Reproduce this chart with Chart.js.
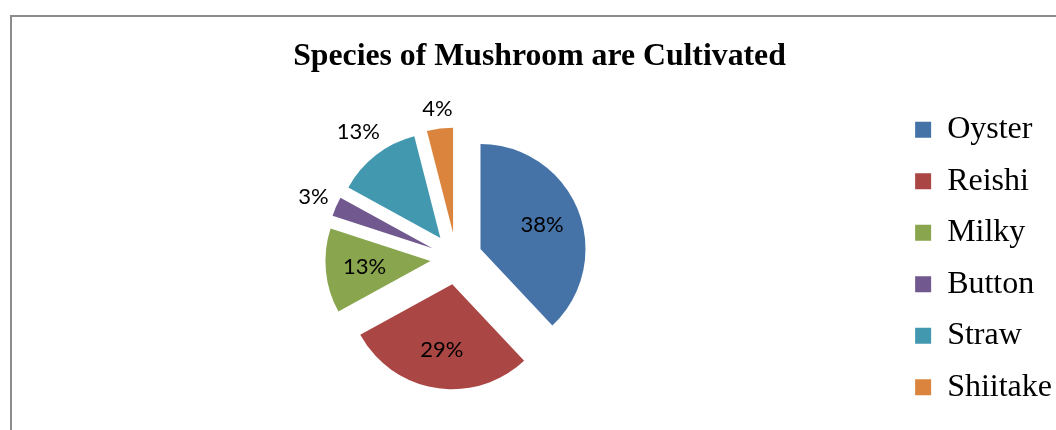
<!DOCTYPE html>
<html>
<head>
<meta charset="utf-8">
<script src="https://cdn.jsdelivr.net/npm/chart.js@4"></script>
<style>
  html, body { margin: 0; padding: 0; background: #fff; overflow: hidden; }
  #frame { position: absolute; left: 10px; top: 15px; width: 1200px; height: 600px;
           border-top: 2px solid #8c8c8c; border-left: 2px solid #8c8c8c; }
  #wrap { position: absolute; left: 0; top: 0; width: 1068px; height: 430px; }
</style>
</head>
<body>
<div id="frame"></div>
<div id="wrap"><canvas id="mushroomChart"></canvas></div>
<script>
const species = ['Oyster', 'Reishi', 'Milky', 'Button', 'Straw', 'Shiitake'];
const shares = [38, 29, 13, 3, 13, 4];
const sliceColors = ['#4572A7', '#AA4643', '#89A54E', '#71588F', '#4198AF', '#DB843D'];
// which percent labels sit inside their slice (the rest go outside)
const labelInside = [true, true, true, false, false, false];

// Excel-style explosion: push each slice out along its bisector by `offset` px,
// keeping radius and angles as the controller computed them
Chart.ArcElement.prototype.draw = function (ctx) {
    const {x, y, startAngle, endAngle, outerRadius} = this;
    if (endAngle - startAngle <= 0 || outerRadius <= 0) return;
    const shift = this.options.offset || 0;
    const mid = (startAngle + endAngle) / 2;
    ctx.save();
    ctx.translate(Math.cos(mid) * shift, Math.sin(mid) * shift);
    ctx.beginPath();
    ctx.moveTo(x, y);
    ctx.arc(x, y, outerRadius, startAngle, endAngle);
    ctx.closePath();
    ctx.fillStyle = this.options.backgroundColor;
    ctx.fill();
    ctx.restore();
};

const sliceLabels = {
    id: 'sliceLabels',
    afterDatasetsDraw(chart) {
        const ctx = chart.ctx;
        const meta = chart.getDatasetMeta(0);
        const total = shares.reduce((a, b) => a + b, 0);
        ctx.save();
        ctx.font = '22px Lato';
        ctx.fillStyle = '#000';
        ctx.textAlign = 'center';
        ctx.textBaseline = 'middle';
        meta.data.forEach((arc, i) => {
            const p = arc.getProps(['x', 'y', 'startAngle', 'endAngle', 'outerRadius'], true);
            const mid = (p.startAngle + p.endAngle) / 2;
            const shift = arc.options.offset || 0;
            const cx = p.x + Math.cos(mid) * shift;
            const cy = p.y + Math.sin(mid) * shift;
            const r = p.outerRadius;
            const text = Math.round(shares[i] / total * 100) + '%';
            let d;
            if (labelInside[i]) {
                d = r * 0.63;
            } else {
                const w = ctx.measureText(text).width;
                d = r + 6 + Math.abs(Math.cos(mid)) * w / 2 + Math.abs(Math.sin(mid)) * 12;
            }
            ctx.fillText(text, cx + Math.cos(mid) * d, cy + Math.sin(mid) * d);
        });
        ctx.restore();
    }
};

const ctx = document.getElementById('mushroomChart').getContext('2d');
const mushroomChart = new Chart(ctx, {
    type: 'pie',
    data: {
        labels: species,
        datasets: [{
            data: shares,
            backgroundColor: sliceColors,
            borderWidth: 0,
            offset: 26,
            radius: 105
        }]
    },
    options: {
        responsive: true,
        maintainAspectRatio: false,
        animation: false,
        events: [],
        layout: {
            padding: { left: 17, right: 6, top: 0, bottom: 0 }
        },
        plugins: {
            title: {
                display: true,
                text: 'Species of Mushroom are Cultivated',
                color: '#000',
                font: { family: 'Liberation Serif', size: 31.75, weight: 'bold' },
                padding: { top: 38, bottom: 11 }
            },
            legend: {
                position: 'right',
                fullSize: false,
                labels: {
                    color: '#000',
                    boxWidth: 16,
                    boxHeight: 16,
                    padding: 19.5,
                    font: { family: 'Liberation Serif', size: 32 }
                }
            },
            tooltip: { enabled: false }
        }
    },
    plugins: [sliceLabels]
});
</script>
</body>
</html>
